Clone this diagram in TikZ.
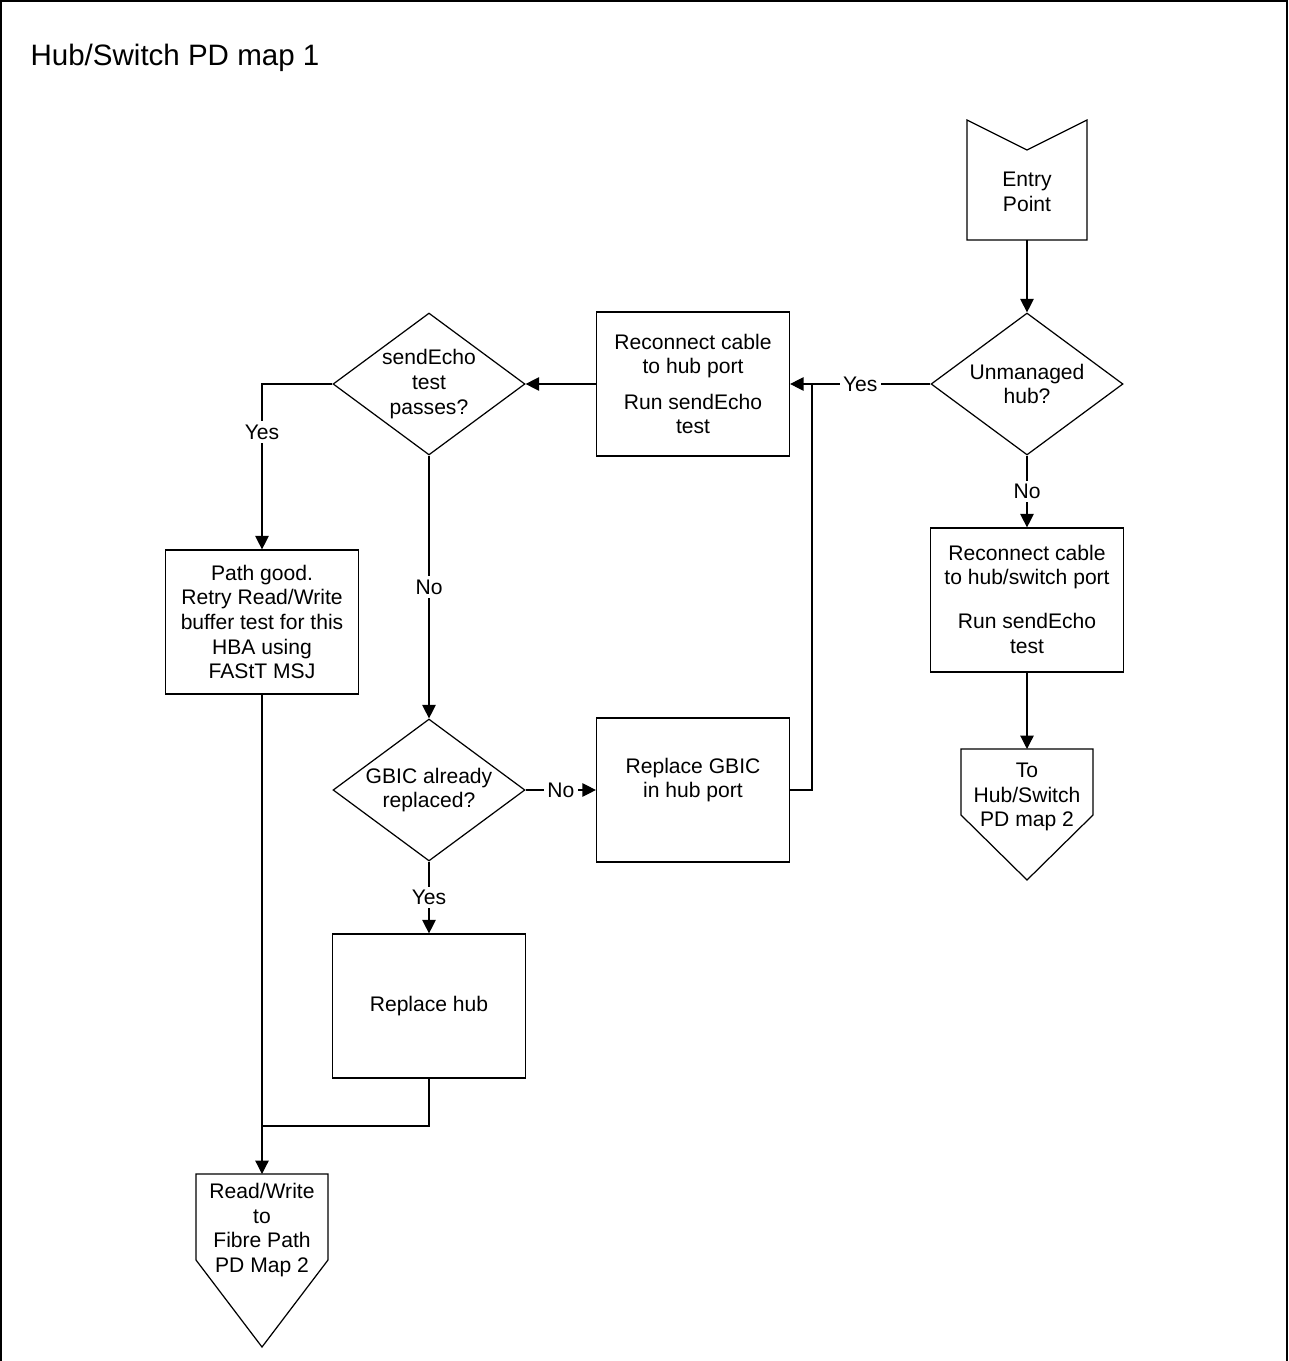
\documentclass[tikz,border=0pt]{standalone}
\usepackage{fontspec}
\setmainfont{Liberation Sans}
\usetikzlibrary{shapes.geometric, arrows.meta, positioning, calc}

\begin{document}
\begin{tikzpicture}[
  x=0.02cm, y=-0.02cm,
  line width=0.7pt,
  font=\fontsize{12}{14}\selectfont,
  procbox/.style={rectangle, draw, minimum width=3.86cm, minimum height=2.88cm,
                  align=center, inner sep=2pt},
  decision/.style={diamond, draw, aspect=1.35, minimum width=3.84cm,
                   minimum height=2.84cm, align=center, inner sep=0pt},
  conntext/.style={align=center, inner sep=0pt},
  arrow/.style={-{Triangle[length=0.27cm, width=0.27cm]}},
  elbl/.style={fill=white, inner sep=2pt}
]
\useasboundingbox (0,0) rectangle (1288,1361);

% Frame and title
\draw (1,1361) -- (1,1) -- (1287,1) -- (1287,1361);
\node[anchor=base west, inner sep=0pt, font=\fontsize{16.8}{20}\selectfont] (title) at (30,66) {Hub/Switch PD map 1};

% Entry point (notched box)
\node[conntext] (entry) at (1027,192) {Entry\\Point};
\draw ($(entry.center)+(-60,-72)$) -- ($(entry.center)+(0,-42)$) -- ($(entry.center)+(60,-72)$)
   -- ($(entry.center)+(60,48)$) -- ($(entry.center)+(-60,48)$) -- cycle;
\coordinate (entrybot) at ($(entry.center)+(0,48)$);

% Right column
\node[decision] (unmanaged) at (1027,384) {Unmanaged\\hub?};
\node[procbox] (recon2) at (1027,600) {~\\[-6pt]Reconnect cable\\to hub/switch port\\[11pt]Run sendEcho\\test};

\node[conntext] (tohub) at (1027,797) {To\\Hub/Switch\\PD map 2};
\draw ($(tohub.center)+(-66,-48)$) -- ($(tohub.center)+(66,-48)$) -- ($(tohub.center)+(66,18)$)
   -- ($(tohub.center)+(0,83)$) -- ($(tohub.center)+(-66,18)$) -- cycle;
\coordinate (tohubtop) at ($(tohub.center)+(0,-48)$);

% Middle column
\node[procbox] (recon1) at (693,384) {Reconnect cable\\to hub port\\[6pt]Run sendEcho\\test};
\node[procbox] (rgbic) at (693,790) {Replace GBIC\\in hub port\\~};

% Left-middle column
\node[decision] (sendecho) at (429,384) {sendEcho\\test\\passes?};
\node[decision] (gbic) at (429,790) {GBIC already\\replaced?};
\node[procbox] (rhub) at (429,1006) {Replace hub};

% Left column
\node[procbox] (pathgood) at (262,622) {Path good.\\Retry Read/Write\\buffer test for this\\HBA using\\FAStT MSJ};

\node[conntext] (readwrite) at (262,1230) {Read/Write\\to\\Fibre Path\\PD Map 2};
\draw ($(readwrite.center)+(-66,-56)$) -- ($(readwrite.center)+(66,-56)$) -- ($(readwrite.center)+(66,30)$)
   -- ($(readwrite.center)+(0,117)$) -- ($(readwrite.center)+(-66,30)$) -- cycle;
\coordinate (rwtop) at ($(readwrite.center)+(0,-56)$);

% Junction points
\coordinate (merge) at (812,384);
\coordinate (join) at (262,1126);

% --- Arrows ---
\draw[arrow] (entrybot) -- (unmanaged);
\draw[arrow] (unmanaged) -- node[elbl]{Yes} (recon1);
\draw[arrow] (unmanaged) -- node[elbl]{No} (recon2);
\draw[arrow] (recon2) -- (tohubtop);

\draw[arrow] (recon1) -- (sendecho);
\draw[arrow] (sendecho.west) -| node[elbl,pos=0.645]{Yes} (pathgood.north);
\draw[arrow] (sendecho) -- node[elbl]{No} (gbic);

\draw[arrow] (gbic) -- node[elbl]{No} (rgbic);
\draw[arrow] (gbic) -- node[elbl]{Yes} (rhub);
\draw (rgbic.east) -| (merge);

\draw (rhub.south) |- (join);
\draw[arrow] (pathgood) -- (rwtop);

\end{tikzpicture}
\end{document}
